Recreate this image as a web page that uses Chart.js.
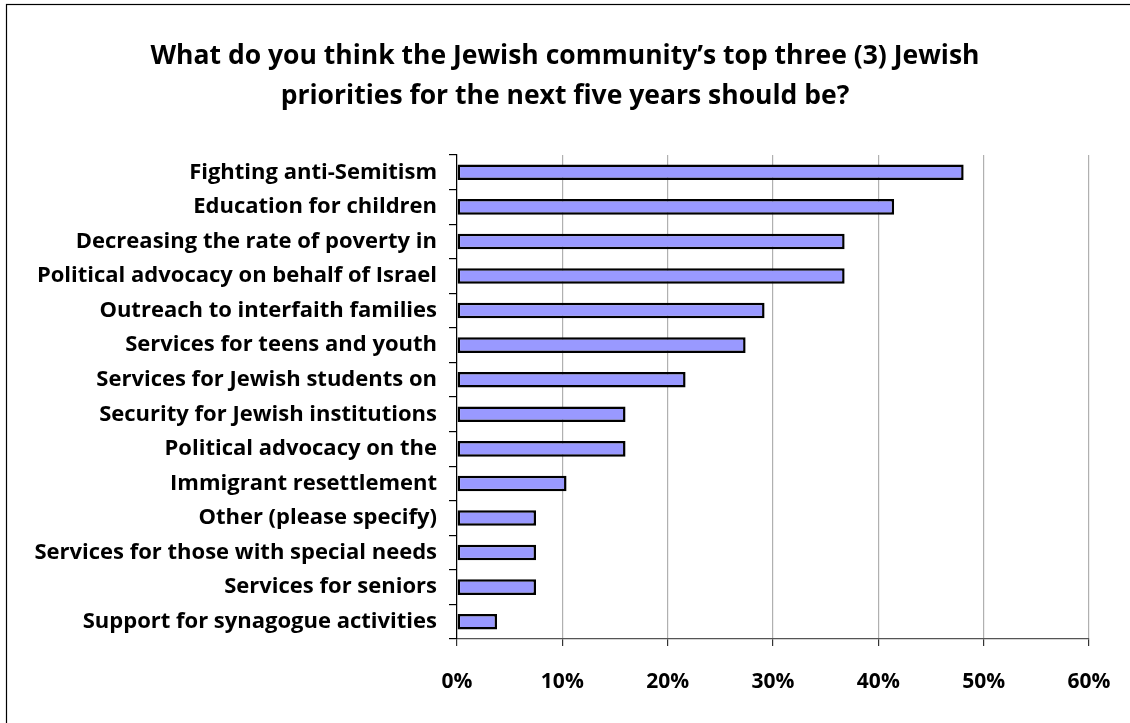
<!DOCTYPE html>
<html>
<head>
<meta charset="utf-8">
<script src="https://cdn.jsdelivr.net/npm/chart.js@4.4.1/dist/chart.umd.min.js"></script>
<style>
html,body{margin:0;padding:0;background:#fff;}
#wrap{width:1130px;height:723px;position:relative;}
</style>
</head>
<body>
<div id="wrap"><canvas id="c" width="1130" height="723"></canvas></div>
<script>
const categories = [
  "Fighting anti-Semitism",
  "Education for children",
  "Decreasing the rate of poverty in",
  "Political advocacy on behalf of Israel",
  "Outreach to interfaith families",
  "Services for teens and youth",
  "Services for Jewish students on",
  "Security for Jewish institutions",
  "Political advocacy on the",
  "Immigrant resettlement",
  "Other (please specify)",
  "Services for those with special needs",
  "Services for seniors",
  "Support for synagogue activities"
];
const values = [48.1, 41.5, 36.8, 36.8, 29.2, 27.4, 21.7, 16.0, 16.0, 10.4, 7.5, 7.5, 7.5, 3.8];
const xTicks = [0, 10, 20, 30, 40, 50, 60];
const titleLines = [
  "What do you think the Jewish community\u2019s top three (3) Jewish",
  "priorities for the next five years should be?"
];

const FONT = "'Open Sans'";

const borderPlugin = {
  id: 'outerBorder',
  afterDraw(chart) {
    const ctx = chart.ctx;
    ctx.save();
    ctx.strokeStyle = '#000';
    ctx.lineWidth = 1.2;
    ctx.strokeRect(6.5, 4.5, 1130, 730);
    ctx.restore();
  }
};

new Chart(document.getElementById('c'), {
  type: 'bar',
  data: {
    labels: categories,
    datasets: [{
      data: values,
      backgroundColor: '#9999FF',
      borderColor: '#000000',
      borderWidth: 2.5,
      borderSkipped: false,
      categoryPercentage: 1.0,
      barPercentage: 0.45
    }]
  },
  options: {
    indexAxis: 'y',
    responsive: false,
    animation: false,
    layout: { padding: { left: 0, right: 0, top: 4, bottom: 0 } },
    plugins: {
      legend: { display: false },
      tooltip: { enabled: false },
      title: {
        display: true,
        text: titleLines,
        color: '#000',
        font: { family: FONT, size: 26.5, weight: 'bold', lineHeight: 1.5 },
        padding: { top: 33, bottom: 38.5 }
      }
    },
    scales: {
      x: {
        type: 'linear',
        min: 0,
        max: 60,
        afterBuildTicks(scale) { scale.ticks = xTicks.map(v => ({ value: v })); },
        afterFit(scale) { scale.height = 723 - 639; scale.paddingRight = 41; },
        ticks: {
          callback: v => v + '%',
          color: '#000',
          font: { family: FONT, size: 21, weight: 'bold' },
          padding: 23,
          maxRotation: 0
        },
        grid: {
          color: '#b0b0b0',
          lineWidth: 1.2,
          drawTicks: true,
          tickLength: 7,
          tickColor: '#333'
        },
        border: { display: true, color: '#555', width: 1.2 }
      },
      y: {
        afterFit(scale) { scale.width = 457; },
        ticks: {
          color: '#000',
          font: { family: FONT, size: 22, weight: 'bold' },
          padding: 12,
          autoSkip: false
        },
        grid: {
          offset: true,
          drawOnChartArea: false,
          drawTicks: true,
          tickLength: 8,
          tickColor: '#000',
          lineWidth: 1.2
        },
        border: { display: true, color: '#000', width: 1.2 }
      }
    }
  },
  plugins: [borderPlugin]
});
</script>
</body>
</html>
